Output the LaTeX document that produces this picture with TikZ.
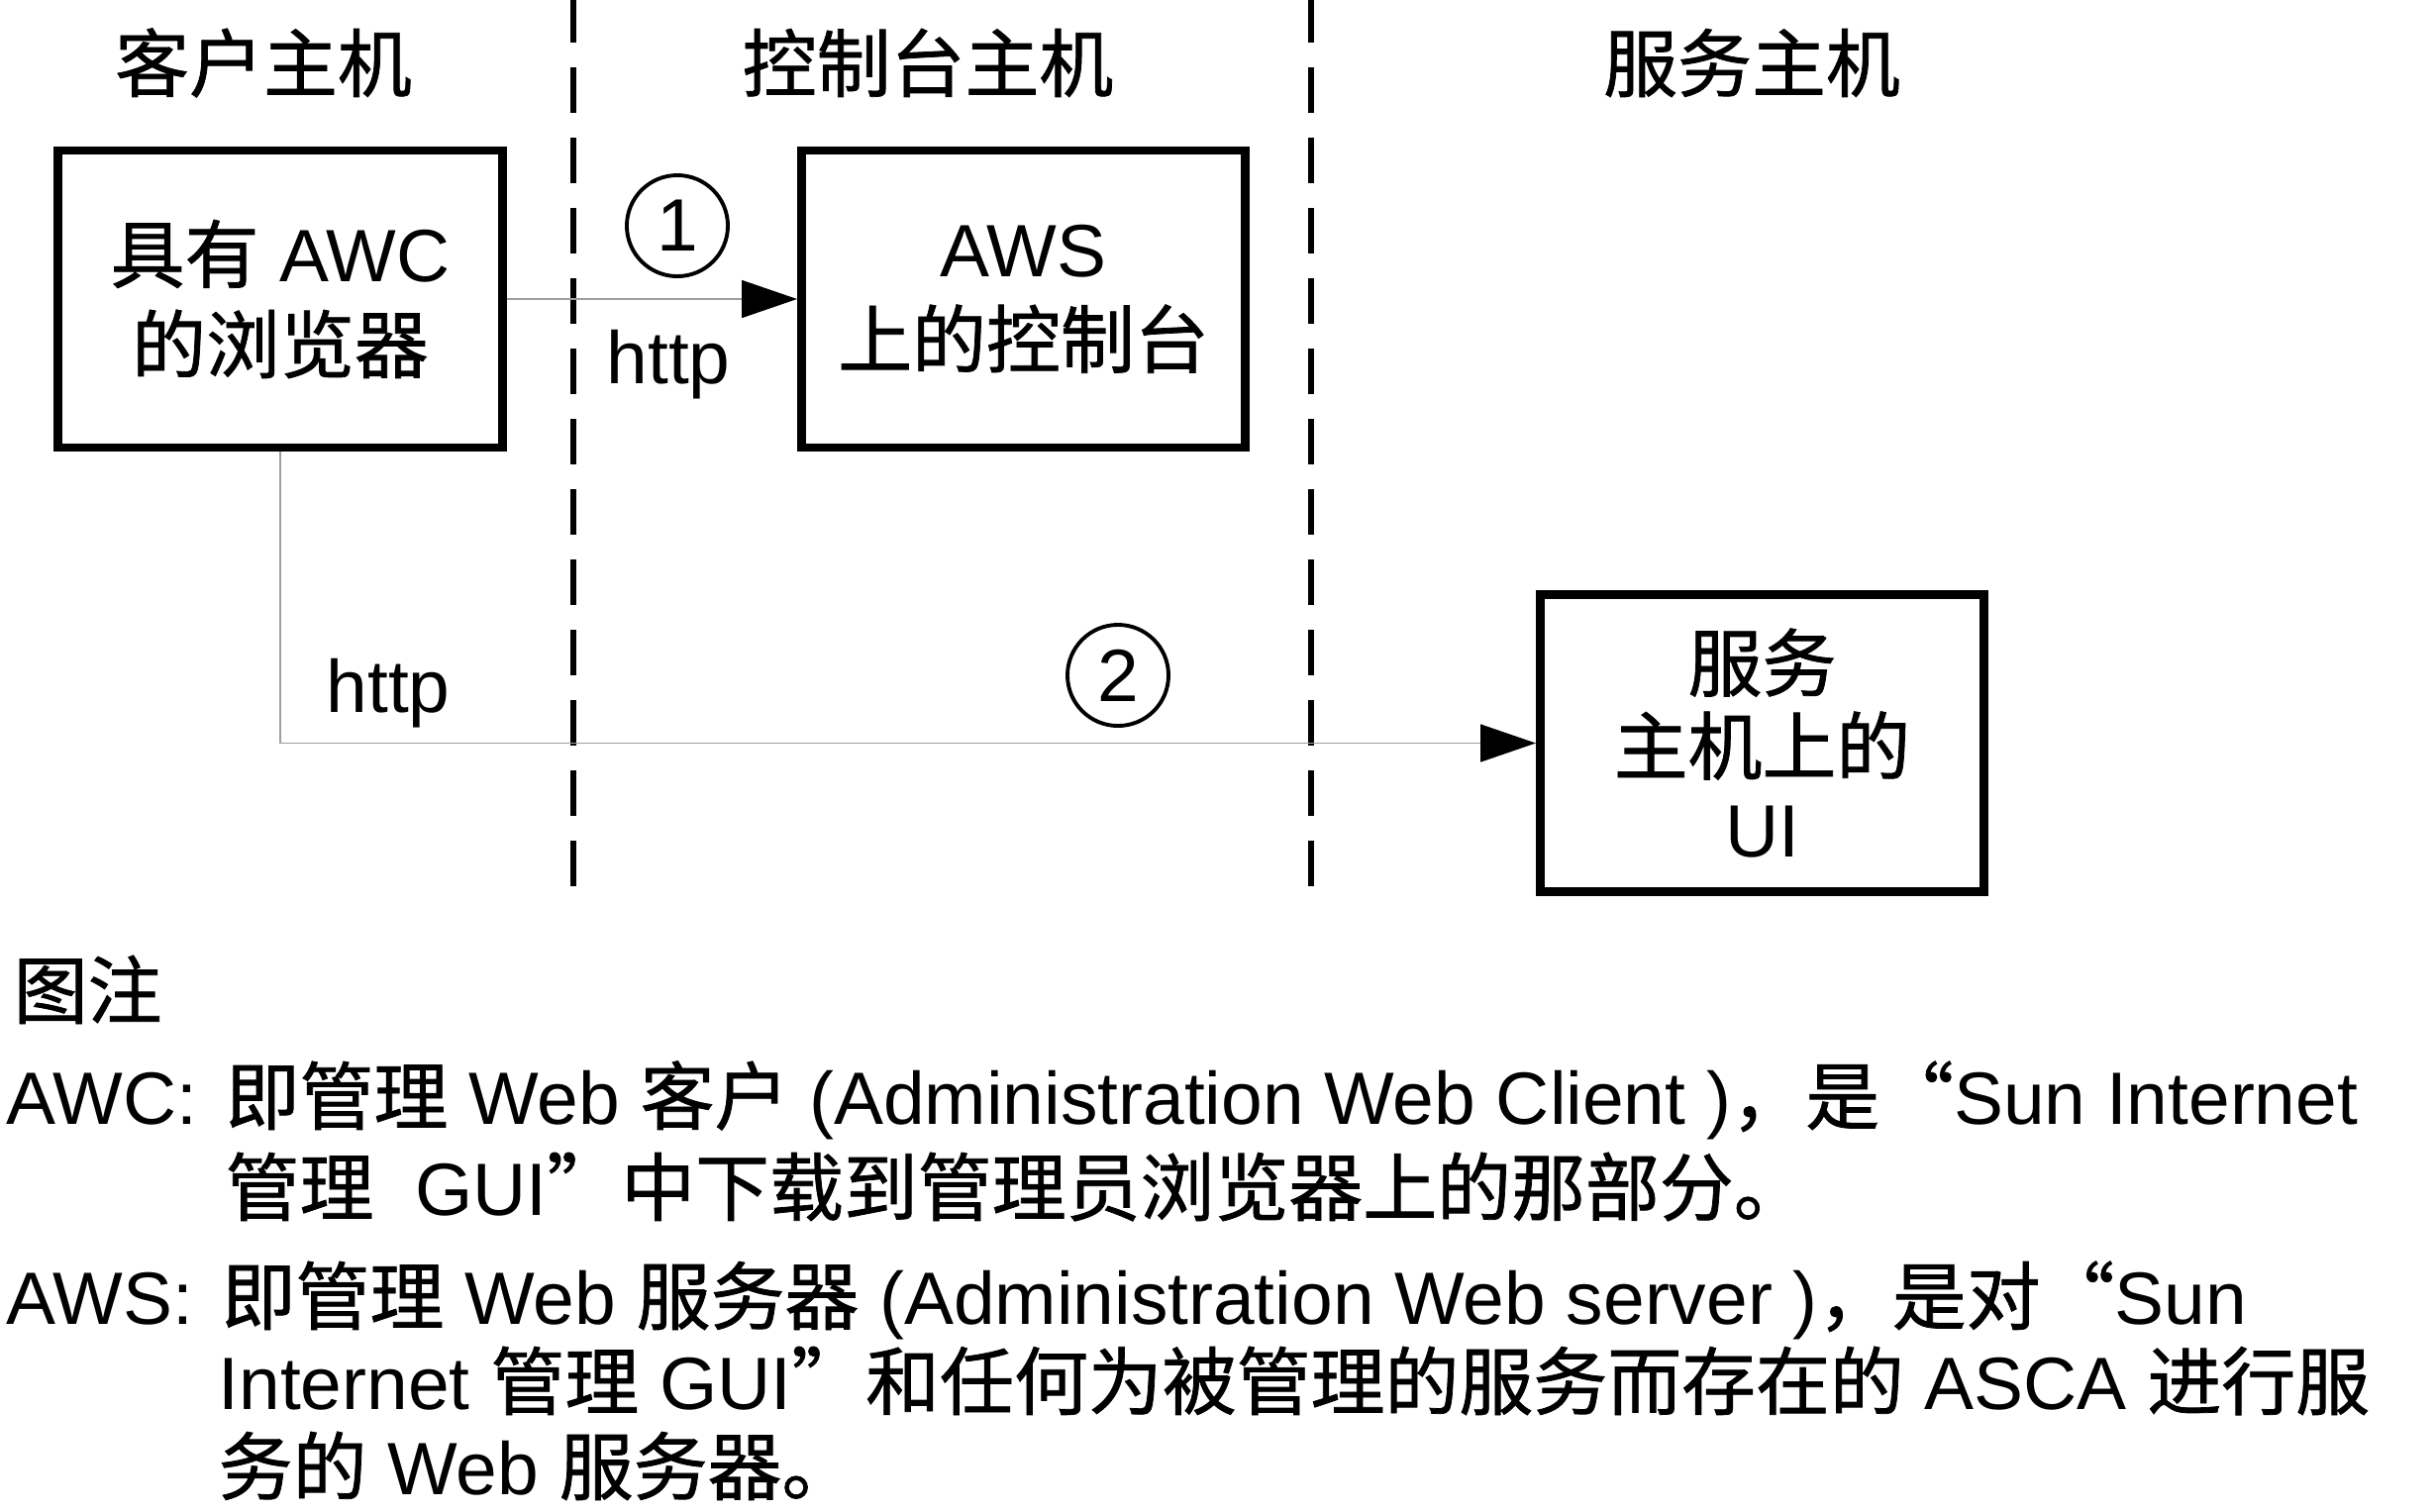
\documentclass[tikz,border=0pt]{standalone}
\usepackage{fontspec}
\setmainfont{Liberation Sans}
\newfontfamily\cjk{Noto Sans CJK SC}[FakeBold=1.0]
\usetikzlibrary{arrows.meta}
\newcommand\zh[1]{{\cjk #1}}
\definecolor{connGray}{gray}{0.62}
\begin{document}
\begin{tikzpicture}[x=0.01cm,y=-0.01cm,
  every node/.style={font=\fontsize{21.3pt}{25.9pt}\selectfont},
  hostbox/.style={draw, line width=2.5pt, minimum width=4.48cm, minimum height=3cm, align=center, inner sep=0pt},
  divider/.style={line width=1.7pt, dash pattern=on 13.1pt off 7.1pt},
  conn/.style={draw=connGray, line width=0.45pt, -{Triangle[length=15.9pt,width=10.8pt,color=black]}},
  numcircle/.style={draw, circle, line width=1.1pt, minimum size=1.02cm, inner sep=0pt},
  heading/.style={anchor=base},
  legend/.style={anchor=base west, inner sep=0pt}]
\useasboundingbox (0,0) rectangle (2459,1526);
% column headings
\node[heading] (t1) at (266,92) {\zh{客户主机}};
\node[heading] (t2) at (937,92) {\zh{控制台主机}};
\node[heading] (t3) at (1769,92) {\zh{服务主机}};
% dividers
\draw[divider] (579,-3) -- (579,895);
\draw[divider] (1324,-3) -- (1324,895);
% boxes
\node[hostbox] (b1) at (283,302) {\zh{具有} AWC\\\zh{的浏览器}};
\node[hostbox] (b2) at (1033.5,302) {AWS\\\zh{上的控制台}};
\node[hostbox, font=\fontsize{21.3pt}{23.9pt}\selectfont] (b3) at (1779.5,750.5) {\zh{服务}\\\zh{主机上的}\\UI};
% connectors
\draw[conn] (b1.east) -- (b2.west);
\draw[conn] (b1.south) |- (b3.west);
% labels
\node[numcircle] (c1) at (684,228) {1};
\node[numcircle] (c2) at (1129,682) {2};
\node[anchor=base] (h1) at (675,387) {http};
\node[anchor=base] (h2) at (392,719) {http};
% legend
\node[legend] (lgT) at (13,1028) {\zh{图注}};
\node[legend] (lgA) at (6,1135) {AWC:};
\node[legend] (lgA1) at (227,1135) {\zh{即管理} Web \zh{客户} (Administration Web Client )\zh{，是“}Sun Internet};
\node[legend] (lgA2) at (227,1227) {\zh{管理}\ \ GUI\zh{”中下载到管理员浏览器上的那部分。}};
\node[legend] (lgS) at (6,1337) {AWS:};
\node[legend] (lgS1) at (223,1337) {\zh{即管理} Web \zh{服务器} (Administration Web server )\zh{，是对“}Sun};
\node[legend] (lgS2) at (220,1423) {Internet \zh{管理} GUI\zh{”和任何为被管理的服务而存在的} ASCA \zh{进行服}};
\node[legend] (lgS3) at (220,1509) {\zh{务的} Web \zh{服务器。}};
\end{tikzpicture}
\end{document}
